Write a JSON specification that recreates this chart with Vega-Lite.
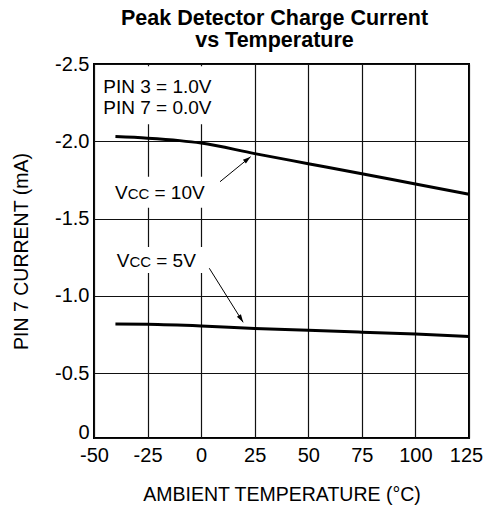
{
  "$schema": "https://vega.github.io/schema/vega-lite/v6.json",
  "autosize": "none",
  "width": 375,
  "height": 374,
  "padding": {"left": 94, "top": 64, "right": 14, "bottom": 72},
  "background": "white",
  "config": {
    "font": "Liberation Sans",
    "view": {"stroke": "#000", "strokeWidth": 2},
    "axis": {
      "grid": true, "gridColor": "#111", "gridWidth": 1.2, "gridOpacity": 1,
      "ticks": false, "domain": false,
      "labelFont": "Liberation Sans", "labelFontSize": 20, "labelColor": "#000",
      "titleFont": "Liberation Sans", "titleFontSize": 19.5, "titleFontWeight": "normal", "titleColor": "#000"
    }
  },
  "title": {
    "text": ["Peak Detector Charge Current", "vs Temperature"],
    "fontSize": 21.5, "fontWeight": "bold", "font": "Liberation Sans", "color": "#000",
    "anchor": "middle", "dx": -7, "offset": 3, "lineHeight": 22
  },
  "datasets": {
    "curves": [
      {"t": -40, "i": -2.03, "vcc": "10V"},
      {"t": -25, "i": -2.02, "vcc": "10V"},
      {"t": -10, "i": -2.004, "vcc": "10V"},
      {"t": 0, "i": -1.988, "vcc": "10V"},
      {"t": 25, "i": -1.92, "vcc": "10V"},
      {"t": 50, "i": -1.855, "vcc": "10V"},
      {"t": 75, "i": -1.79, "vcc": "10V"},
      {"t": 100, "i": -1.723, "vcc": "10V"},
      {"t": 125, "i": -1.657, "vcc": "10V"},
      {"t": -40, "i": -0.817, "vcc": "5V"},
      {"t": -25, "i": -0.815, "vcc": "5V"},
      {"t": 0, "i": -0.804, "vcc": "5V"},
      {"t": 25, "i": -0.788, "vcc": "5V"},
      {"t": 50, "i": -0.776, "vcc": "5V"},
      {"t": 75, "i": -0.764, "vcc": "5V"},
      {"t": 100, "i": -0.752, "vcc": "5V"},
      {"t": 125, "i": -0.737, "vcc": "5V"}
    ],
    "boxes": [
      {"t1": -47, "t2": 9.5, "i1": -2.485, "i2": -2.11},
      {"t1": -43.5, "t2": 6.5, "i1": -1.77, "i2": -1.57},
      {"t1": -43.5, "t2": 6.5, "i1": -1.315, "i2": -1.147}
    ],
    "arrows": [
      {"vcc": "10V", "t1": 8.8, "i1": -1.738, "t2": 23.1, "i2": -1.9},
      {"vcc": "5V", "t1": 3.8, "i1": -1.178, "t2": 19.6, "i2": -0.828}
    ],
    "pins": [
      {"text": "PIN 3 = 1.0V", "t": -45.7, "i": -2.349},
      {"text": "PIN 7 = 0.0V", "t": -45.7, "i": -2.217}
    ],
    "vcc": [
      {"v": "V", "cc": "CC", "rest": "= 10V", "t": -40.2, "i": -1.67},
      {"v": "V", "cc": "CC", "rest": "= 5V", "t": -39.4, "i": -1.231}
    ]
  },
  "encoding": {
    "x": {
      "type": "quantitative",
      "scale": {"domain": [-50, 125], "nice": false, "zero": false},
      "axis": {"title": "AMBIENT TEMPERATURE (°C)", "values": [-50, -25, 0, 25, 50, 75, 100, 125], "labelPadding": 7, "titlePadding": 20, "labelFlush": false,
        "labelOffset": {"condition": {"test": "datum.value == 125", "value": -3}, "value": 0},
        "labelExpr": "replace(format(datum.value, 'd'), '\u2212', '-')"}
    },
    "y": {
      "type": "quantitative",
      "scale": {"domain": [0, -0.5, -2.5], "range": [374, 309, 0], "nice": false, "zero": false},
      "axis": {"title": "PIN 7 CURRENT (mA)", "values": [0, -0.5, -1, -1.5, -2, -2.5], "labelPadding": 5, "titlePadding": 23,
        "labelOffset": {"condition": {"test": "datum.value == 0", "value": -6}, "value": 0},
        "labelExpr": "datum.value == 0 ? '0' : replace(format(datum.value, '.1f'), '\u2212', '-')"}
    }
  },
  "layer": [
    {
      "data": {"name": "boxes"},
      "mark": {"type": "rect", "fill": "white", "stroke": null},
      "encoding": {
        "x": {"field": "t1", "type": "quantitative"},
        "x2": {"field": "t2"},
        "y": {"field": "i1", "type": "quantitative"},
        "y2": {"field": "i2"}
      }
    },
    {
      "data": {"name": "curves"},
      "mark": {"type": "line", "color": "#000", "strokeWidth": 3, "interpolate": "monotone"},
      "encoding": {
        "x": {"field": "t", "type": "quantitative"},
        "y": {"field": "i", "type": "quantitative"},
        "detail": {"field": "vcc"}
      }
    },
    {
      "data": {"name": "arrows"},
      "mark": {"type": "rule", "color": "#000", "strokeWidth": 1},
      "encoding": {
        "x": {"field": "t1", "type": "quantitative"},
        "y": {"field": "i1", "type": "quantitative"},
        "x2": {"field": "t2"},
        "y2": {"field": "i2"}
      }
    },
    {
      "data": {"name": "arrows"},
      "transform": [{"filter": "datum.vcc == '10V'"}],
      "mark": {"type": "point", "shape": "M0,0L-0.6,2L0.6,2Z", "size": 64, "filled": true, "color": "#000", "opacity": 1, "angle": 51},
      "encoding": {
        "x": {"field": "t2", "type": "quantitative"},
        "y": {"field": "i2", "type": "quantitative"}
      }
    },
    {
      "data": {"name": "arrows"},
      "transform": [{"filter": "datum.vcc == '5V'"}],
      "mark": {"type": "point", "shape": "M0,0L-0.6,2L0.6,2Z", "size": 64, "filled": true, "color": "#000", "opacity": 1, "angle": 148},
      "encoding": {
        "x": {"field": "t2", "type": "quantitative"},
        "y": {"field": "i2", "type": "quantitative"}
      }
    },
    {
      "data": {"name": "pins"},
      "mark": {"type": "text", "align": "left", "baseline": "middle", "fontSize": 19, "color": "#000"},
      "encoding": {
        "x": {"field": "t", "type": "quantitative"},
        "y": {"field": "i", "type": "quantitative"},
        "text": {"field": "text"}
      }
    },
    {
      "data": {"name": "vcc"},
      "mark": {"type": "text", "align": "left", "baseline": "alphabetic", "dy": 7, "fontSize": 19, "color": "#000"},
      "encoding": {
        "x": {"field": "t", "type": "quantitative"},
        "y": {"field": "i", "type": "quantitative"},
        "text": {"field": "v"}
      }
    },
    {
      "data": {"name": "vcc"},
      "mark": {"type": "text", "align": "left", "baseline": "alphabetic", "dy": 7, "dx": 12.7, "fontSize": 15, "color": "#000"},
      "encoding": {
        "x": {"field": "t", "type": "quantitative"},
        "y": {"field": "i", "type": "quantitative"},
        "text": {"field": "cc"}
      }
    },
    {
      "data": {"name": "vcc"},
      "mark": {"type": "text", "align": "left", "baseline": "alphabetic", "dy": 7, "dx": 39.5, "fontSize": 19, "color": "#000"},
      "encoding": {
        "x": {"field": "t", "type": "quantitative"},
        "y": {"field": "i", "type": "quantitative"},
        "text": {"field": "rest"}
      }
    }
  ]
}
